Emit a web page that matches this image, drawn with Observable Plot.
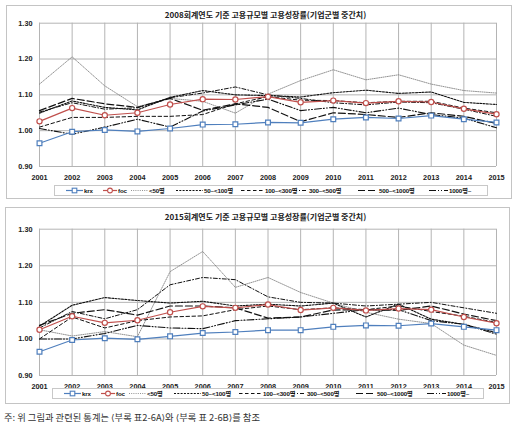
<!DOCTYPE html>
<html>
<head>
<meta charset="utf-8">
<script src="https://cdn.jsdelivr.net/npm/d3@7"></script>
<script src="https://cdn.jsdelivr.net/npm/@observablehq/plot@0.6"></script>
<style>
  html, body { margin: 0; padding: 0; background: #fff; }
  #root { position: relative; width: 521px; height: 428px; overflow: hidden; }
  .panel { position: absolute; border: 1px solid #c4c4c4; box-sizing: border-box; }
  .title { position: absolute; left: 0; width: 521px; text-align: center; font-family: "Noto Sans CJK KR", sans-serif; font-weight: 700; font-size: 8px; color: #222; line-height: 10px; padding-left: 10px; box-sizing: border-box; }
  .chart { position: absolute; left: 0; }
  .legend { position: absolute; border: 1px solid #c8c8c8; box-sizing: border-box; background: #fff; }
  .li { position: absolute; top: 0; height: 9px; display: flex; align-items: center; font-family: "Liberation Sans", "Noto Sans CJK KR", sans-serif; font-weight: 700; font-size: 6.2px; color: #111; white-space: nowrap; letter-spacing: -0.15px; }
  .li svg { margin-right: 1px; }
  .note { position: absolute; left: 4px; top: 410px; font-family: "Noto Sans CJK KR", sans-serif; font-size: 9.3px; color: #333; white-space: nowrap; line-height: 14px; }
  .br { font-family: "DejaVu Sans", sans-serif; font-size: 9px; }
</style>
</head>
<body>
<div id="root"></div>
<script>
// ---------- data ----------
const years = [2001, 2002, 2003, 2004, 2005, 2006, 2007, 2008, 2009, 2010, 2011, 2012, 2013, 2014, 2015];
const yTicks = [0.90, 1.00, 1.10, 1.20, 1.30];
const seriesNames = ["krx", "foc", "<50명", "50~<100명", "100~<300명", "300~<500명", "500~<1000명", "1000명~"];
const titles = ["2008회계연도 기준 고용규모별 고용성장률(기업군별 중간치)", "2015회계연도 기준 고용규모별 고용성장률(기업군별 중간치)"];
const noteParts = ["주: 위 그림과 관련된 통계는 ", "⟨", "부록 표2-6A", "⟩", "와 ", "⟨", "부록 표 2-6B", "⟩", "를 참조"];

// 2008 basis
const krxA   = [0.965, 0.997, 1.002, 0.998, 1.006, 1.017, 1.018, 1.023, 1.022, 1.032, 1.037, 1.034, 1.042, 1.032, 1.023];
const focA   = [1.026, 1.063, 1.043, 1.050, 1.073, 1.088, 1.087, 1.095, 1.079, 1.084, 1.077, 1.082, 1.080, 1.061, 1.046];
const lt50A  = [1.130, 1.206, 1.125, 1.067, 1.090, 1.082, 1.049, 1.102, 1.140, 1.170, 1.142, 1.156, 1.130, 1.112, 1.105];
const s50A   = [1.049, 1.083, 1.065, 1.058, 1.093, 1.112, 1.100, 1.098, 1.094, 1.106, 1.113, 1.104, 1.108, 1.079, 1.073];
const s100A  = [1.010, 1.037, 1.037, 1.040, 1.040, 1.045, 1.075, 1.095, 1.085, 1.084, 1.078, 1.082, 1.082, 1.063, 1.050];
const s300A  = [1.052, 1.078, 1.060, 1.064, 1.092, 1.105, 1.122, 1.100, 1.090, 1.078, 1.072, 1.080, 1.078, 1.060, 1.040];
const s500A  = [1.056, 1.090, 1.075, 1.065, 1.090, 1.057, 1.075, 1.065, 1.025, 1.050, 1.045, 1.037, 1.050, 1.040, 1.020];
const s1000A = [1.006, 0.990, 1.010, 1.032, 1.010, 1.055, 1.072, 1.088, 1.056, 1.065, 1.050, 1.063, 1.045, 1.035, 1.008];

// 2015 basis
const krxB   = [0.965, 0.997, 1.002, 0.999, 1.007, 1.016, 1.019, 1.024, 1.024, 1.033, 1.037, 1.036, 1.042, 1.033, 1.024];
const focB   = [1.025, 1.062, 1.044, 1.051, 1.073, 1.089, 1.085, 1.094, 1.079, 1.085, 1.078, 1.083, 1.080, 1.060, 1.043];
const lt50B  = [1.025, 1.008, 1.020, 1.006, 1.184, 1.239, 1.141, 1.168, 1.127, 1.098, 1.073, 1.054, 1.042, 0.983, 0.955];
const s50B   = [1.035, 1.092, 1.113, 1.105, 1.098, 1.103, 1.090, 1.095, 1.090, 1.098, 1.060, 1.095, 1.054, 1.040, 1.017];
const s100B  = [1.000, 1.060, 1.030, 1.050, 1.060, 1.063, 1.080, 1.090, 1.080, 1.085, 1.080, 1.090, 1.075, 1.062, 1.045];
const s300B  = [1.030, 1.075, 1.055, 1.080, 1.148, 1.168, 1.162, 1.115, 1.100, 1.098, 1.090, 1.095, 1.100, 1.085, 1.070];
const s500B  = [1.037, 1.070, 1.080, 1.065, 1.090, 1.090, 1.085, 1.057, 1.060, 1.079, 1.080, 1.078, 1.090, 1.068, 1.050];
const s1000B = [1.000, 1.000, 1.015, 1.037, 1.030, 1.028, 1.050, 1.055, 1.060, 1.070, 1.080, 1.080, 1.050, 1.040, 1.013];

const panelA = [krxA, focA, lt50A, s50A, s100A, s300A, s500A, s1000A];
const panelB = [krxB, focB, lt50B, s50B, s100B, s300B, s500B, s1000B];

// ---------- styles ----------
const BLUE = "#4f7fbd", RED = "#c0504d";
const lineStyles = [
  {stroke: BLUE, strokeWidth: 1.2, dash: null},
  {stroke: RED, strokeWidth: 1.2, dash: null},
  {stroke: "#777", strokeWidth: 0.8, dash: "1,1.2"},
  {stroke: "#111", strokeWidth: 1.1, dash: "2,1.3"},
  {stroke: "#111", strokeWidth: 1.0, dash: "3.5,2.5"},
  {stroke: "#111", strokeWidth: 1.0, dash: "4,2,1,2"},
  {stroke: "#111", strokeWidth: 1.2, dash: "7,3"},
  {stroke: "#111", strokeWidth: 1.1, dash: "7,2,1,2,1,2"}
];

const root = document.getElementById("root");
function el(tag, cls, css, txt) {
  const e = document.createElement(tag);
  if (cls) e.className = cls;
  if (css) Object.assign(e.style, css);
  if (txt != null) e.textContent = txt;
  root.appendChild(e);
  return e;
}

function rows(vals, name) { return years.map((y, i) => ({year: y, value: vals[i], series: name})); }

function makeChart(panel, mt, mb, H) {
  const marks = [
    Plot.gridX(years, {stroke: "#b4b4b4", strokeOpacity: 1, strokeWidth: 1}),
    Plot.gridY(yTicks, {stroke: "#b4b4b4", strokeOpacity: 1, strokeWidth: 1}),
    Plot.axisX({ticks: years, tickSize: 0, tickPadding: 8, tickFormat: d => String(d), label: null}),
    Plot.axisY({ticks: yTicks, tickSize: 0, tickPadding: 7, tickFormat: d3.format(".2f"), label: null})
  ];
  const order = [2, 3, 4, 5, 6, 7, 1, 0];
  for (const k of order) {
    const st = lineStyles[k];
    const opts = {x: "year", y: "value", stroke: st.stroke, strokeWidth: st.strokeWidth};
    if (st.dash) opts.strokeDasharray = st.dash;
    marks.push(Plot.line(rows(panel[k], seriesNames[k]), opts));
  }
  marks.push(Plot.dot(rows(panel[1], "foc"), {x: "year", y: "value", symbol: "circle", r: 2.6, fill: "#fff", stroke: RED, strokeWidth: 1.2}));
  marks.push(Plot.dot(rows(panel[0], "krx"), {x: "year", y: "value", symbol: "square", r: 2.7, fill: "#fff", stroke: BLUE, strokeWidth: 1.2}));
  return Plot.plot({
    width: 521, height: H,
    marginLeft: 39, marginRight: 25, marginTop: mt, marginBottom: mb,
    x: {domain: [2001, 2015]},
    y: {domain: [0.9, 1.3]},
    style: {fontFamily: "'Liberation Sans', Arial, sans-serif", fontSize: "7.3px", fontWeight: "bold", color: "#222", background: "transparent", overflow: "visible"},
    marks
  });
}

// legend layout (offsets within the legend box and swatch lengths)
const legendItemX = [11, 48, 76, 121, 186, 238, 303, 374];
const swatchW = [17, 14, 17, 27, 23, 15, 20, 19];

function swatch(k) {
  const st = lineStyles[k];
  const w = swatchW[k];
  const ns = "http://www.w3.org/2000/svg";
  const s = document.createElementNS(ns, "svg");
  s.setAttribute("width", w); s.setAttribute("height", 7);
  const l = document.createElementNS(ns, "line");
  l.setAttribute("x1", 0); l.setAttribute("x2", w); l.setAttribute("y1", 3.5); l.setAttribute("y2", 3.5);
  l.setAttribute("stroke", st.stroke); l.setAttribute("stroke-width", st.strokeWidth);
  if (st.dash) l.setAttribute("stroke-dasharray", st.dash);
  s.appendChild(l);
  if (k === 0) {
    const r = document.createElementNS(ns, "rect");
    r.setAttribute("x", w / 2 - 2.3); r.setAttribute("y", 1.2); r.setAttribute("width", 4.6); r.setAttribute("height", 4.6);
    r.setAttribute("fill", "#fff"); r.setAttribute("stroke", BLUE); r.setAttribute("stroke-width", 1.1);
    s.appendChild(r);
  } else if (k === 1) {
    const c = document.createElementNS(ns, "circle");
    c.setAttribute("cx", w / 2); c.setAttribute("cy", 3.5); c.setAttribute("r", 2.4);
    c.setAttribute("fill", "#fff"); c.setAttribute("stroke", RED); c.setAttribute("stroke-width", 1.1);
    s.appendChild(c);
  }
  return s;
}

function makePanel(idx, panel, box, titleY, svgTop, mt, mb, H, legBox) {
  el("div", "panel", {left: box[0] + "px", top: box[1] + "px", width: box[2] + "px", height: box[3] + "px"});
  el("div", "title", {top: titleY + "px"}, titles[idx]);
  const wrap = el("div", "chart", {top: svgTop + "px"});
  wrap.appendChild(makeChart(panel, mt, mb, H));
  const leg = el("div", "legend", {left: legBox[0] + "px", top: legBox[1] + "px", width: legBox[2] + "px", height: legBox[3] + "px"});
  seriesNames.forEach((name, k) => {
    const it = document.createElement("div");
    it.className = "li";
    it.style.left = legendItemX[k] + "px";
    it.appendChild(swatch(k));
    const t = document.createElement("span");
    t.textContent = name;
    it.appendChild(t);
    leg.appendChild(it);
  });
}

makePanel(0, panelA, [6, 5, 506, 194], 10, 0, 22.7, 19, 185, [54, 185, 434, 11]);
makePanel(1, panelB, [5, 207, 505, 197], 212, 205, 23.7, 20, 190, [52, 388, 432, 11]);

const noteEl = el("div", "note");
noteParts.forEach(p => {
  const s = document.createElement("span");
  if (p === "⟨" || p === "⟩") s.className = "br";
  s.textContent = p;
  noteEl.appendChild(s);
});
</script>
</body>
</html>
